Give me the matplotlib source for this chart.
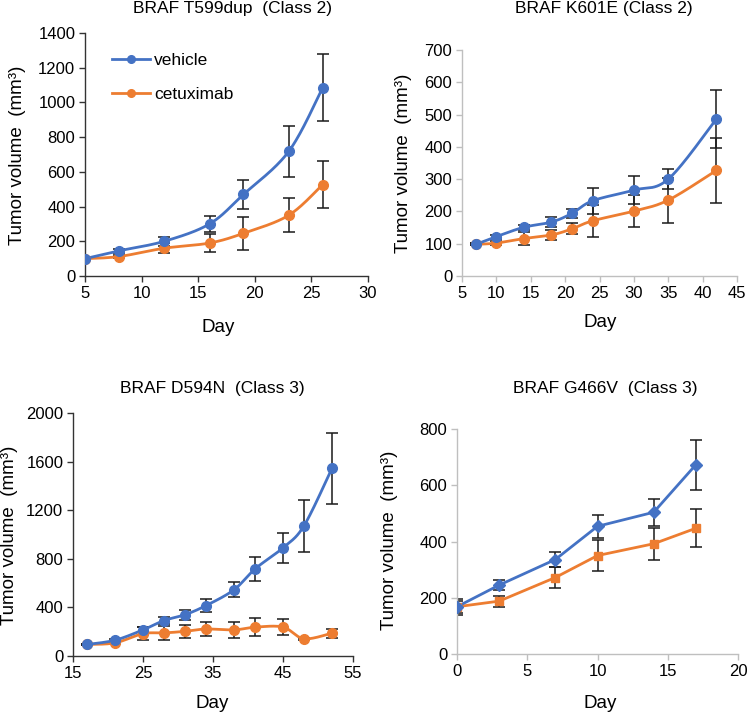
import numpy as np
import matplotlib
matplotlib.use("Agg")
import matplotlib.pyplot as plt
from matplotlib.lines import Line2D

plt.rcParams['font.family'] = ['Liberation Sans', 'DejaVu Sans']

BLUE = '#4472C4'
ORANGE = '#ED7D31'

# ---- data ----
p1_days = [5, 8, 12, 16, 19, 23, 26]
p1_veh = [100, 145, 200, 300, 470, 718, 1085]
p1_veh_err = [5, 12, 25, 44, 85, 145, 192]
p1_cet = [100, 112, 160, 190, 246, 350, 527]
p1_cet_err = [5, 8, 28, 50, 95, 97, 133]

p2_days = [7, 10, 14, 18, 21, 24, 30, 35, 42]
p2_veh = [98, 122, 151, 167, 194, 233, 266, 300, 486]
p2_veh_err = [3, 6, 8, 16, 13, 41, 43, 30, 91]
p2_cet = [98, 102, 116, 127, 146, 171, 201, 235, 327]
p2_cet_err = [3, 6, 20, 15, 17, 50, 50, 70, 100]

p3_days = [17, 21, 25, 28, 31, 34, 38, 41, 45, 48, 52]
p3_veh = [95, 130, 215, 292, 340, 415, 545, 717, 890, 1072, 1545]
p3_veh_err = [5, 10, 20, 28, 40, 56, 62, 100, 125, 212, 292]
p3_cet = [95, 108, 184, 190, 203, 222, 215, 237, 238, 142, 188]
p3_cet_err = [5, 8, 55, 60, 55, 60, 67, 76, 67, 10, 36]

p4_days = [0, 3, 7, 10, 14, 17]
p4_veh = [168, 245, 336, 454, 504, 673]
p4_veh_err = [22, 18, 26, 41, 48, 89]
p4_cet = [168, 188, 272, 350, 392, 447]
p4_cet_err = [28, 20, 38, 54, 56, 68]

titles = ['BRAF T599dup  (Class 2)', 'BRAF K601E (Class 2)',
          'BRAF D594N  (Class 3)', 'BRAF G466V  (Class 3)']
series_labels = ['vehicle', 'cetuximab']

W, H = 750, 714
fig = plt.figure(figsize=(W / 100, H / 100), dpi=100)

TICK_FS = 12
LABEL_FS = 13.5
TITLE_FS = 12.5


def add_ax(l, t, r, b):
    return fig.add_axes([l / W, 1 - b / H, (r - l) / W, (b - t) / H])


def smooth(ax, x, y, n=30):
    # Excel-like smoothed line, computed in display-proportional space
    x = np.asarray(x, float)
    y = np.asarray(y, float)
    x0, x1 = ax.get_xlim()
    y0, y1 = ax.get_ylim()
    bb = ax.get_position()
    sx = bb.width * W / (x1 - x0)
    sy = bb.height * H / (y1 - y0)
    P = np.column_stack([x * sx, y * sy])
    pts = []
    m = len(P)
    for i in range(m - 1):
        p0 = P[i - 1] if i > 0 else P[i]
        p1 = P[i]
        p2 = P[i + 1]
        p3 = P[i + 2] if i + 2 < m else P[i + 1]
        c1 = p1 + (p2 - p0) / 6.0
        c2 = p2 - (p3 - p1) / 6.0
        t = np.linspace(0, 1, n)[:, None]
        seg = ((1 - t) ** 3) * p1 + 3 * ((1 - t) ** 2) * t * c1 + 3 * (1 - t) * t ** 2 * c2 + t ** 3 * p2
        if i > 0:
            seg = seg[1:]
        pts.append(seg)
    pts = np.vstack(pts)
    return pts[:, 0] / sx, pts[:, 1] / sy


def style(ax, xlim, xticks, ylim, yticks, spine_color):
    ax.set_xlim(*xlim)
    ax.set_ylim(*ylim)
    ax.set_xticks(xticks)
    ax.set_yticks(yticks)
    for s in ['top', 'right']:
        ax.spines[s].set_visible(False)
    for s in ['left', 'bottom']:
        ax.spines[s].set_color(spine_color)
        ax.spines[s].set_linewidth(1.0)
    ax.tick_params(direction='out', length=4, width=1.0, color=spine_color,
                   labelsize=TICK_FS, labelcolor='black', pad=3)
    ax.set_facecolor('none')


def draw(ax, days, veh, veh_err, cet, cet_err, smooth_on, mk_v='o', mk_c='o', ms=7):
    for vals, errs in [(cet, cet_err), (veh, veh_err)]:
        ax.errorbar(days, vals, yerr=errs, fmt='none', ecolor='#1a1a1a', elinewidth=1.1,
                    capsize=4, capthick=1.1, zorder=2)
    for vals, col, mk in [(cet, ORANGE, mk_c), (veh, BLUE, mk_v)]:
        if smooth_on:
            sx, sy = smooth(ax, days, vals)
            ax.plot(sx, sy, color=col, lw=2.0, zorder=3, solid_capstyle='round')
        else:
            ax.plot(days, vals, color=col, lw=2.0, zorder=3)
        ax.plot(days, vals, linestyle='none', marker=mk, ms=ms, color=col, zorder=4)


def labels(ax, title, title_xy, xlab_xy, ylab_xy):
    bb = ax.get_position()

    def to_ax(px, py):
        fx = px / W
        fy = 1 - py / H
        return (fx - bb.x0) / bb.width, (fy - bb.y0) / bb.height
    ax.set_xlabel('Day', fontsize=LABEL_FS)
    ax.xaxis.set_label_coords(*to_ax(*xlab_xy))
    ax.set_ylabel('Tumor volume  (mm³)', fontsize=LABEL_FS)
    ax.yaxis.set_label_coords(*to_ax(*ylab_xy))
    ax.xaxis.label.set_va('center')
    ax.yaxis.label.set_va('center')
    fig.text(title_xy[0] / W, 1 - title_xy[1] / H, title, fontsize=TITLE_FS,
             ha='center', va='center')


# Panel 1
ax1 = add_ax(85, 33, 368, 276)
style(ax1, (5, 30), [5, 10, 15, 20, 25, 30], (0, 1400), np.arange(0, 1401, 200), '#333333')
draw(ax1, p1_days, p1_veh, p1_veh_err, p1_cet, p1_cet_err, True)
labels(ax1, titles[0], (233, 8), (218, 328), (17, 155))
h1 = Line2D([], [], color=BLUE, lw=2.0, marker='o', ms=5.5)
h2 = Line2D([], [], color=ORANGE, lw=2.0, marker='o', ms=5.5)
ax1.legend([h1, h2], series_labels, loc='upper left', bbox_to_anchor=(0.07, 0.945),
           frameon=False, fontsize=12.5, handlelength=2.2, handletextpad=0.25,
           labelspacing=1.05, borderaxespad=0)

# Panel 2
ax2 = add_ax(462, 50, 737, 276)
style(ax2, (5, 45), [5, 10, 15, 20, 25, 30, 35, 40, 45], (0, 700), np.arange(0, 701, 100), '#bfbfbf')
draw(ax2, p2_days, p2_veh, p2_veh_err, p2_cet, p2_cet_err, True)
labels(ax2, titles[1], (604, 8), (600, 323), (403, 163))

# Panel 3
ax3 = add_ax(73, 413, 353, 656)
style(ax3, (15, 55), [15, 25, 35, 45, 55], (0, 2000), np.arange(0, 2001, 400), '#333333')
draw(ax3, p3_days, p3_veh, p3_veh_err, p3_cet, p3_cet_err, True)
labels(ax3, titles[2], (212, 389), (212, 704), (10, 535))

# Panel 4
ax4 = add_ax(457, 429, 738, 654)
style(ax4, (0, 20), [0, 5, 10, 15, 20], (0, 800), np.arange(0, 801, 200), '#bfbfbf')
draw(ax4, p4_days, p4_veh, p4_veh_err, p4_cet, p4_cet_err, False, mk_v='D', mk_c='s', ms=6)
labels(ax4, titles[3], (605, 389), (600, 704), (390, 540))

fig.savefig('out.png', dpi=100)
